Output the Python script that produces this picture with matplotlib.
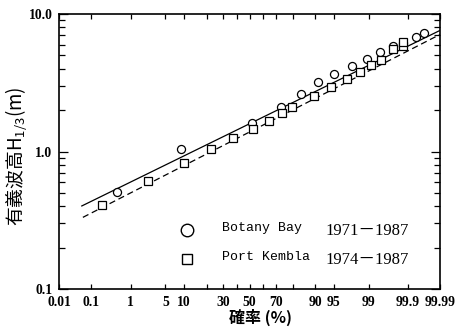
import numpy as np
import matplotlib
matplotlib.use("Agg")
import matplotlib.pyplot as plt
from matplotlib.ticker import FixedLocator, NullLocator, NullFormatter, LogLocator
from statistics import NormalDist

plt.rcParams["mathtext.fontset"] = "custom"
plt.rcParams["mathtext.rm"] = "Noto Sans CJK JP"
plt.rcParams["mathtext.it"] = "Noto Sans CJK JP"

# --- data -------------------------------------------------------------
# Botany Bay (1971-1987): non-exceedance probability (%) and H1/3 (m)
bb_p = [0.47, 8.9, 51.6, 73.1, 84.1, 90.8, 94.96, 97.72, 98.92, 99.46,
        99.75, 99.942, 99.968]
bb_h = [0.505, 1.04, 1.60, 2.11, 2.62, 3.20, 3.64, 4.19, 4.73, 5.32,
        5.85, 6.80, 7.33]

# Port Kembla (1974-1987)
pk_p = [0.19, 2.34, 9.9, 22.6, 37.6, 52.4, 65.0, 73.9, 79.6, 89.4, 94.4,
        97.12, 98.45, 99.13, 99.49, 99.75, 99.86, 99.86]
pk_h = [0.408, 0.61, 0.83, 1.04, 1.25, 1.46, 1.675, 1.90, 2.12, 2.55, 2.93,
        3.38, 3.80, 4.26, 4.65, 5.54, 5.85, 6.31]

# fitted distribution lines
bb_fit_p = [0.05, 99.99]
bb_fit_h = [0.40, 7.6]
pk_fit_p = [0.056, 99.99]
pk_fit_h = [0.332, 7.1]

x_ticks = [0.01, 0.1, 1, 5, 10, 20, 30, 40, 50, 60, 70, 80, 90, 95, 99, 99.9, 99.99]
x_ticklabels = ["0.01", "0.1", "1", "5", "10", "", "30", "", "50", "", "70", "",
                "90", "95", "99", "99.9", "99.99"]
y_ticks = [0.1, 1.0, 10.0]
y_ticklabels = ["0.1", "1.0", "10.0"]

legend_names = ["Botany Bay", "Port Kembla"]
legend_years = ["1971\uff0d1987", "1974\uff0d1987"]

# --- normal probability scale -----------------------------------------
_nd = NormalDist()
_ppf = np.vectorize(_nd.inv_cdf, otypes=[float])
_cdf = np.vectorize(_nd.cdf, otypes=[float])


def prob_forward(p):
    p = np.clip(np.asarray(p, dtype=float), 1e-7, 100 - 1e-7)
    return _ppf(p / 100.0)


def prob_inverse(z):
    return 100.0 * _cdf(np.asarray(z, dtype=float))


# --- figure -------------------------------------------------------------
fig = plt.figure(figsize=(4.59, 3.30), dpi=100)
ax = fig.add_axes([0.1292, 0.1242, 0.8294, 0.8333])

ax.set_xscale("function", functions=(prob_forward, prob_inverse))
ax.set_yscale("log")
ax.set_xlim(0.01, 99.99)
ax.set_ylim(0.1, 10)

ax.plot(bb_fit_p, bb_fit_h, color="black", lw=0.9, solid_capstyle="butt")
ax.plot(pk_fit_p, pk_fit_h, color="black", lw=0.9, dashes=(5, 3))
ax.plot(bb_p, bb_h, ls="none", marker="o", ms=5.8, mfc="white", mec="black", mew=0.9)
ax.plot(pk_p, pk_h, ls="none", marker="s", ms=5.3, mfc="white", mec="black", mew=0.9)

# ticks
ax.xaxis.set_major_locator(FixedLocator(x_ticks))
ax.set_xticklabels(x_ticklabels)
ax.xaxis.set_minor_locator(NullLocator())
ax.yaxis.set_major_locator(FixedLocator(y_ticks))
ax.set_yticklabels(y_ticklabels)
ax.yaxis.set_minor_locator(LogLocator(base=10, subs=np.arange(2, 10)))
ax.yaxis.set_minor_formatter(NullFormatter())

ax.tick_params(which="both", direction="in", top=True, right=True,
               width=0.9, colors="black")
ax.tick_params(axis="x", which="major", length=3.6, pad=5)
ax.tick_params(axis="y", which="major", length=6.5, pad=5)
ax.tick_params(axis="y", which="minor", length=4.5)

for lab in ax.get_xticklabels() + ax.get_yticklabels():
    lab.set_fontfamily("Liberation Serif")
    lab.set_fontsize(9.8)
    lab.set_fontweight("bold")

for sp in ax.spines.values():
    sp.set_linewidth(1.2)

# legend block
leg_rows_y = [0.215, 0.108]
leg_markers = [dict(marker="o", ms=9), dict(marker="s", ms=7.5)]
for yy, mk, name, yrs in zip(leg_rows_y, leg_markers, legend_names, legend_years):
    ax.plot([0.335], [yy], transform=ax.transAxes, ls="none", mfc="white",
            mec="black", mew=1.0, clip_on=False, **mk)
    ax.text(0.427, yy + 0.008, name, transform=ax.transAxes, ha="left", va="center",
            family="Liberation Mono", fontsize=9.5)
    ax.text(0.698, yy - 0.004, yrs, transform=ax.transAxes, ha="left", va="center",
            family=["Liberation Serif", "Noto Sans CJK JP"], fontsize=12)

# axis titles
fig.text(0.036, 0.525, r"$\mathrm{有義波高H}_{\mathrm{1/3}}\mathrm{(m)}$",
         rotation=90, ha="center", va="center", fontsize=13.5)
fig.text(0.567, 0.038, "確率 (%)", family=["Noto Sans CJK JP", "DejaVu Sans"],
         fontsize=11.5, weight="bold", ha="center", va="center")

fig.savefig("out.png", dpi=100)
